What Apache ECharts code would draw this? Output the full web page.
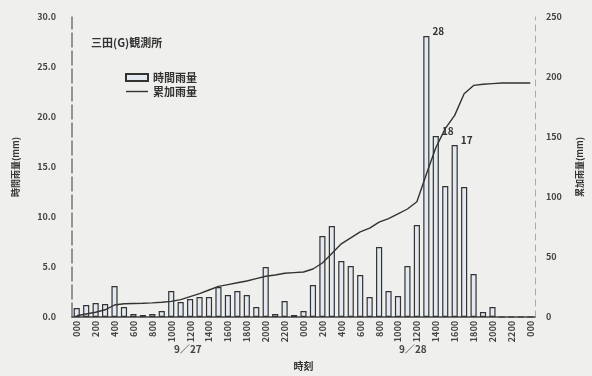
<!DOCTYPE html>
<html>
<head>
<meta charset="utf-8">
<script src="https://cdn.jsdelivr.net/npm/echarts@6/dist/echarts.min.js"></script>
<style>
html,body{margin:0;padding:0;background:#efefed;}
#c{width:592px;height:376px;}
</style>
</head>
<body>
<div id="c"></div>
<script>
// Hour categories (9/27 0:00 .. 9/29 0:00)
const hours = ["000","100","200","300","400","500","600","700","800","900","1000","1100",
  "1200","1300","1400","1500","1600","1700","1800","1900","2000","2100","2200","2300",
  "000","100","200","300","400","500","600","700","800","900","1000","1100",
  "1200","1300","1400","1500","1600","1700","1800","1900","2000","2100","2200","2300","000"];
// Hourly rainfall (mm)
const hourly = [0.9,1.2,1.4,1.3,3.1,1.0,0.3,0.2,0.3,0.6,
  2.6,1.5,1.8,2.0,2.0,3.0,2.2,2.6,2.2,1.0,
  5.0,0.3,1.6,0.2,0.6,
  3.2,8.1,9.1,5.6,5.1,4.2,2.0,7.0,2.6,2.1,
  5.1,9.2,28.1,18.1,13.1,17.2,13.0,4.3,0.5,1.0,
  0,0,0,0];
// Cumulative rainfall (mm)
const cumulative = [1,2.5,4,6,10,11,11.3,11.5,11.8,12.3,
  13,14.5,17,19.5,22.5,25.5,27,28.5,30,32,
  34,35,36.5,37,37.5,
  40,45,53,61,66,71,74,79,82,86,
  90,96,119,141,157,168,186,193,194,194.5,
  195,195,195,195];
// Peaks annotated with their value
const peakIdx = [37,38,40];
// Axis ticks
const leftMax = 30, leftStep = 5;
const rightMax = 250, rightStep = 50;

const FONT = '"Noto Sans CJK JP", "Noto Sans", sans-serif';
const chart = echarts.init(document.getElementById('c'));

const barData = hourly.map((v, i) => peakIdx.includes(i)
  ? {value: v, label: {show: true}} : v);

chart.setOption({
  backgroundColor: '#efefed',
  animation: false,
  textStyle: {fontFamily: FONT},
  title: {
    text: '三田(G)観測所', left: 86, top: 32,
    textStyle: {fontSize: 11, fontWeight: 'bold', color: '#333', fontFamily: FONT}
  },
  legend: {
    orient: 'vertical', left: 120, top: 67, itemGap: 3,
    itemWidth: 22, itemHeight: 7,
    textStyle: {fontSize: 11, fontWeight: 'bold', color: '#333', fontFamily: FONT},
    data: [
      {name: '時間雨量', icon: 'rect'},
      {name: '累加雨量', icon: 'path://M0,0 L22,0 L22,1.4 L0,1.4 Z'}
    ]
  },
  grid: {left: 72, right: 55, top: 17, bottom: 54},
  xAxis: {
    type: 'category', data: hours, boundaryGap: true,
    name: '時刻', nameLocation: 'middle', nameGap: 44,
    nameTextStyle: {fontSize: 10, fontWeight: 'bold', color: '#333'},
    axisLine: {lineStyle: {color: '#444', width: 1.5}},
    axisTick: {show: false},
    axisLabel: {interval: 1, rotate: 90, fontSize: 9, fontWeight: 'bold', color: '#444', margin: 4}
  },
  yAxis: [
    {
      type: 'value', min: 0, max: leftMax, interval: leftStep,
      name: '時間雨量(mm)', nameLocation: 'middle', nameGap: 52, nameRotate: 90,
      nameTextStyle: {fontSize: 9, fontWeight: 'bold', color: '#333'},
      axisLine: {show: true, lineStyle: {color: '#777', width: 1.5, type: [14, 4]}},
      axisTick: {show: false},
      splitLine: {show: false},
      axisLabel: {fontSize: 9, fontWeight: 'bold', color: '#444', margin: 16,
        formatter: v => v.toFixed(1)}
    },
    {
      type: 'value', min: 0, max: rightMax, interval: rightStep, position: 'right',
      name: '累加雨量(mm)', nameLocation: 'middle', nameGap: 40, nameRotate: 90,
      nameTextStyle: {fontSize: 9, fontWeight: 'bold', color: '#333'},
      axisLine: {show: true, lineStyle: {color: '#aaa', width: 1, type: [6, 5]}},
      axisTick: {show: false},
      splitLine: {show: false},
      axisLabel: {fontSize: 9, fontWeight: 'bold', color: '#444', margin: 11}
    }
  ],
  series: [
    {
      name: '時間雨量', type: 'bar', yAxisIndex: 0, data: barData,
      barWidth: '65%',
      itemStyle: {color: '#e3e9f1', borderColor: '#333', borderWidth: 1.2},
      label: {show: false, position: 'top', offset: [12, 5], fontSize: 10,
        fontWeight: 'bold', color: '#333', formatter: p => Math.round(p.value)},
      z: 2
    },
    {
      name: '累加雨量', type: 'line', yAxisIndex: 1, data: cumulative,
      showSymbol: false, symbol: 'none',
      lineStyle: {color: '#333', width: 1.4},
      itemStyle: {color: '#333'},
      z: 3
    }
  ],
  graphic: [
    {type: 'text', left: 174, top: 344,
      style: {text: '9／27', fill: '#444', font: 'bold 10px ' + FONT}},
    {type: 'text', left: 399, top: 344,
      style: {text: '9／28', fill: '#444', font: 'bold 10px ' + FONT}}
  ]
});
</script>
</body>
</html>
